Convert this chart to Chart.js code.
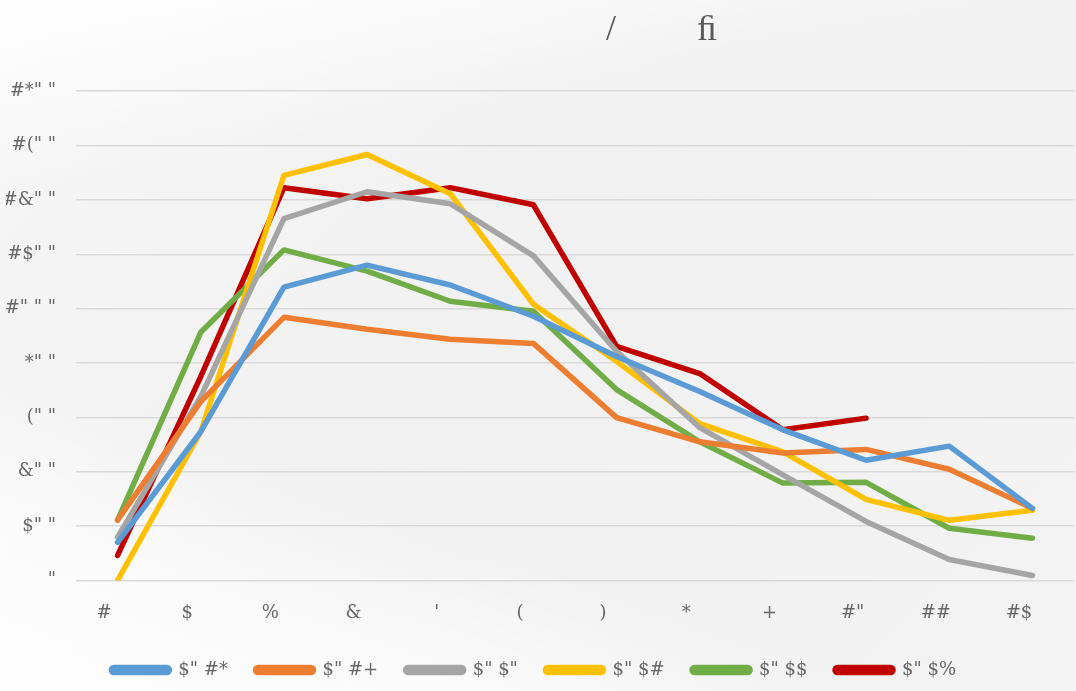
<!DOCTYPE html>
<html>
<head>
<meta charset="utf-8">
<script src="https://cdn.jsdelivr.net/npm/chart.js@4.4.1/dist/chart.umd.min.js"></script>
<style>
  html, body { margin: 0; padding: 0; }
  body {
    width: 1076px; height: 691px; overflow: hidden;
    background:
      linear-gradient(170deg, rgba(255,255,255,0.95) 0%, rgba(255,255,255,0.6) 9%, rgba(255,255,255,0) 22%),
      linear-gradient(200deg, rgba(255,255,255,0) 70%, rgba(255,255,255,0.7) 85%, rgba(255,255,255,0.9) 100%),
      linear-gradient(135deg, #f6f6f6 0%, #f1f1f1 45%, #f3f3f3 100%);
  }
  #wrap { position: absolute; left: 0; top: 0; width: 1076px; height: 691px; }
</style>
</head>
<body>
<div id="wrap"><canvas id="c" width="1076" height="691"></canvas></div>
<script>
const categories = ['#', '$', '%', '&', "'", '(', ')', '*', '+', '#"', '##', '#$'];
const seriesNames = ['$" #*', '$" #+', '$" $"', '$" $#', '$" $$', '$" $%'];
const yTickLabels = ['"', '$" "', '&" "', '(" "', '*" "', '#" " "', '#$" "', '#&" "', '#(" "', '#*" "'];
const titleText = '/' + ' '.repeat(9) + '\uFB01';

const s2018 = [140, 547, 1079, 1160, 1087, 972, 824, 695, 554, 442, 494, 265];
const s2019 = [222, 658, 968, 924, 887, 872, 599, 510, 469, 482, 409, 265];
const s2020 = [159, 676, 1331, 1430, 1386, 1194, 843, 562, 388, 217, 77, 18];
const s2021 = [0, 547, 1490, 1567, 1423, 1016, 806, 577, 473, 298, 221, 258];
const s2022 = [222, 913, 1216, 1138, 1027, 990, 702, 510, 358, 361, 192, 155];
const s2023 = [92, 750, 1445, 1404, 1445, 1382, 861, 761, 554, 597, null, null];

const colors = ['#5B9BD5', '#ED7D31', '#A5A5A5', '#FFC000', '#70AD47', '#C00000'];
const seriesData = [s2018, s2019, s2020, s2021, s2022, s2023];

const FONT = "'DejaVu Serif', 'Liberation Serif', serif";
const TFONT = "'Liberation Serif', serif";
const TXT = '#666666';

const datasets = seriesData.map((d, i) => ({
  label: seriesNames[i] + '\u2002\u2009',
  data: d,
  borderColor: colors[i],
  backgroundColor: colors[i],
  borderWidth: 5.5,
  pointRadius: 0,
  pointHoverRadius: 0,
  tension: 0,
  borderCapStyle: 'round',
  borderJoinStyle: 'round',
  spanGaps: false
}));

new Chart(document.getElementById('c'), {
  type: 'line',
  data: { labels: categories.map(c => c + '\u2003\u2002'), datasets },
  options: {
    responsive: false,
    animation: false,
    layout: { padding: { left: 6, right: 2, top: 0, bottom: 2 } },
    plugins: {
      title: {
        display: true,
        text: ' '.repeat(27) + titleText,
        color: '#595959',
        font: { family: TFONT, size: 36, weight: 'normal' },
        padding: { top: 9, bottom: 39 }
      },
      legend: {
        position: 'bottom',
        labels: {
          color: TXT,
          font: { family: FONT, size: 18 },
          boxWidth: 58,
          boxHeight: 5,
          useBorderRadius: true,
          borderRadius: 2.5,
          padding: 15
        }
      },
      tooltip: { enabled: false }
    },
    scales: {
      x: {
        offset: true,
        afterFit: (s) => { s.paddingRight = 0; },
        grid: { display: false, drawTicks: false },
        border: { display: false },
        ticks: { color: TXT, font: { family: FONT, size: 18 }, padding: 22, maxRotation: 0, autoSkip: false }
      },
      y: {
        min: 0, max: 1800,
        afterFit: (axis) => { axis.width = 70; },
        grid: { color: '#d9d9d9', lineWidth: 1.5, drawTicks: false },
        border: { display: false },
        ticks: {
          stepSize: 200,
          color: TXT,
          font: { family: FONT, size: 18 },
          padding: 20,
          callback: (v) => yTickLabels[Math.round(v / 200)]
        }
      }
    }
  }
});
</script>
</body>
</html>
